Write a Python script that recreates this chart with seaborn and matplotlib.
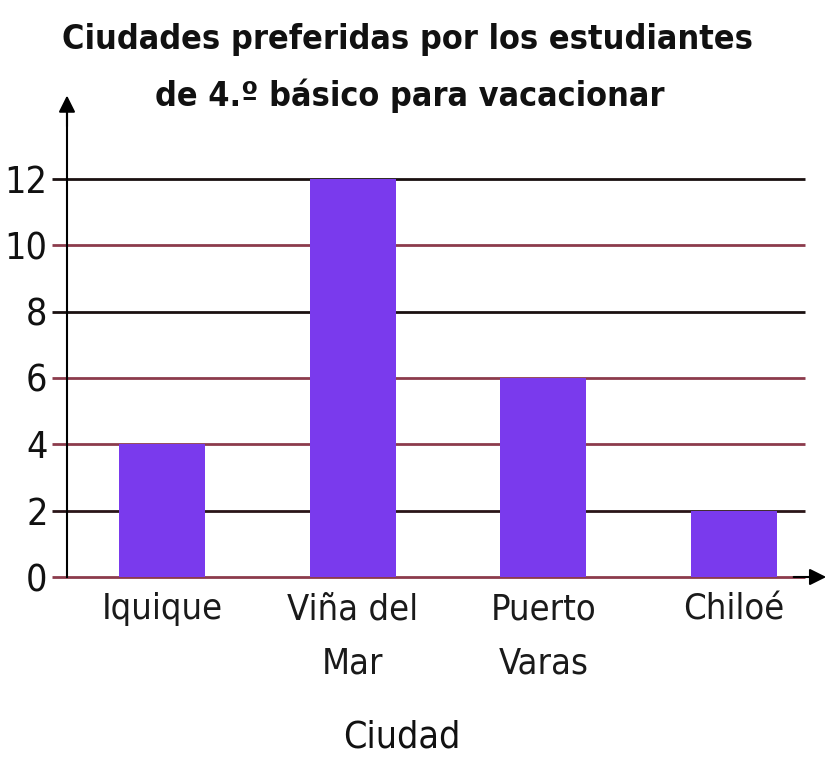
import matplotlib
matplotlib.use("Agg")
import matplotlib.pyplot as plt
import seaborn as sns
import pandas as pd

# Data
ciudades = ["Iquique", "Viña del\nMar", "Puerto\nVaras", "Chiloé"]
estudiantes = [4, 12, 6, 2]
y_ticks = [0, 2, 4, 6, 8, 10, 12]
grid_colors = ["#8c3b4c", "#2a1518", "#8c3b4c", "#8c3b4c", "#1a1010", "#8c3b4c", "#1a1010"]

df = pd.DataFrame({"Ciudad": ciudades, "Estudiantes": estudiantes})

sns.set_style("white")
plt.rcParams["font.family"] = ["DejaVu Sans"]
plt.rcParams["font.stretch"] = "condensed"

W, H = 839, 759
fig = plt.figure(figsize=(W / 100, H / 100), dpi=100)
ax = fig.add_axes([67 / W, 182 / H, (805 - 67) / W, (577 - 105) / H])

# gridlines, extend a little left of the y axis like ticks
for v, c in zip(y_ticks, grid_colors):
    ax.hlines(v, -0.58, 3.374, color=c, lw=2, zorder=1, clip_on=False)

sns.barplot(data=df, x="Ciudad", y="Estudiantes", color="#7a3aed", width=0.45,
            saturation=1, ax=ax, zorder=3, linewidth=0)

ax.set_xlim(-0.5, 3.374)
ax.set_ylim(0, 14.23)
ax.set_yticks(y_ticks)
ax.set_yticklabels([str(v) for v in y_ticks], fontsize=27, color="#111111")
ax.tick_params(axis="y", length=0, pad=14)
ax.tick_params(axis="x", length=0, pad=11, labelsize=26, labelcolor="#1a1a1a")
for lbl in ax.get_xticklabels():
    lbl.set_linespacing(1.75)
    lbl.set_verticalalignment("top")

for s in ["top", "right", "bottom"]:
    ax.spines[s].set_visible(False)
ax.spines["left"].set_color("black")
ax.spines["left"].set_linewidth(1.5)
ax.spines["left"].set_zorder(4)

# arrows at the ends of the axes
ax.annotate("", xy=(-0.5, 14.6), xytext=(-0.5, 13.5),
            arrowprops=dict(arrowstyle="-|>", color="black", lw=1.5, mutation_scale=25),
            annotation_clip=False)
ax.annotate("", xy=(3.5, 0), xytext=(3.3, 0),
            arrowprops=dict(arrowstyle="-|>", color="black", lw=1.5, mutation_scale=25),
            annotation_clip=False)

ax.set_xlabel("")
ax.set_ylabel("")
fig.text(402 / W, 1 - 738 / H, "Ciudad", ha="center", va="center", fontsize=27, color="#111111")

fig.text(408 / W, 1 - 40 / H, "Ciudades preferidas por los estudiantes",
         ha="center", va="center", fontsize=24.5, fontweight="bold", color="#111111")
fig.text(410 / W, 1 - 96 / H, "de 4.º básico para vacacionar",
         ha="center", va="center", fontsize=24.5, fontweight="bold", color="#111111")

fig.savefig("out.png", dpi=100)
